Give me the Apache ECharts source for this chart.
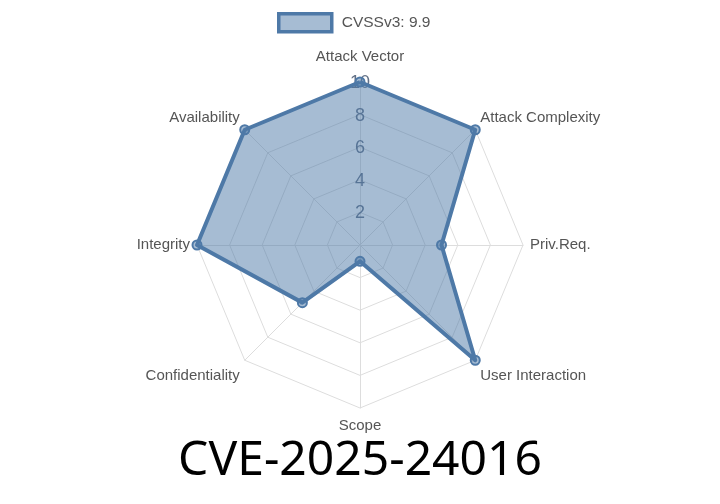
<!DOCTYPE html>
<html><head><meta charset="utf-8">
<script src="https://cdn.jsdelivr.net/npm/echarts@6/dist/echarts.min.js"></script>
<style>html,body{margin:0;padding:0;background:#fff}#c{width:720px;height:504px}</style>
</head><body><div id="c"></div>
<script>
// indicators listed in ECharts' counter-clockwise order starting at top
const indicatorNames = ['Attack Vector','Availability','Integrity','Confidentiality','Scope','User Interaction','Priv.Req.','Attack Complexity'];
const scoreValues = [10, 10, 10, 5, 1, 10, 5, 10];
const tickLabels = [2, 4, 6, 8, 10];
const seriesName = 'CVSSv3: 9.9';
const titleText = 'CVE-2025-24016';
const maxValue = 10;

const namePad = {
  'Attack Vector':'top','Availability':'upper','Attack Complexity':'upper',
  'Confidentiality':'lower','User Interaction':'lower','Scope':'bottom'
};
const nameFont = {color:'#555',fontFamily:'Liberation Sans',fontSize:15};

const chart = echarts.init(document.getElementById('c'), null, {renderer:'canvas'});
chart.setOption({
  animation:false,
  title:{text:titleText,left:'center',top:432,textStyle:{fontFamily:'Noto Sans',fontSize:48,fontWeight:'normal',color:'#000'}},
  legend:{top:7,left:272,data:[seriesName],icon:'rect',itemWidth:53,itemHeight:18,itemGap:16,
    textStyle:{fontFamily:'Liberation Sans',fontSize:15.5,color:'#555',padding:[0,0,0,5]},
    itemStyle:{color:'rgba(78,121,167,0.5)',borderColor:'#4e79a7',borderWidth:3.5}},
  radar:{
    center:[360,245],radius:163,startAngle:90,splitNumber:5,shape:'polygon',
    indicator:indicatorNames.map(n=>({name:n,max:maxValue,min:0})),
    axisName:Object.assign({
      formatter:(name)=>namePad[name]?'{'+namePad[name]+'|'+name+'}':name,
      rich:{
        top:Object.assign({padding:[0,0,11,0]},nameFont),
        upper:Object.assign({padding:[0,0,14,0]},nameFont),
        lower:Object.assign({padding:[22,0,0,0]},nameFont),
        bottom:Object.assign({padding:[3,0,0,0]},nameFont)
      }}, nameFont),
    nameGap:7,
    splitArea:{show:false},
    splitLine:{lineStyle:{color:'#ddd',width:1}},
    axisLine:{lineStyle:{color:'#ddd',width:1}},
    axisTick:{show:false},
    axisLabel:{show:false}
  },
  series:[{
    type:'radar',name:seriesName,
    symbol:'circle',symbolSize:9,z:3,
    lineStyle:{color:'#4e79a7',width:4},
    itemStyle:{color:'rgba(78,121,167,0.5)',borderColor:'#4e79a7',borderWidth:2},
    areaStyle:{color:'rgba(78,121,167,0.5)',opacity:1},
    data:[{value:scoreValues,name:seriesName}]
  }]
});
// tick labels along the top axis, positioned through the radar coordinate system
const coordSys = chart.getModel().getComponent('radar').coordinateSystem;
chart.setOption({graphic: tickLabels.map(v=>{
  const p = coordSys.dataToPoint(v, 0);
  return {type:'text',x:p[0],y:p[1]+1,silent:true,z:2,
    style:{text:String(v),fill:'rgba(80,95,120,0.9)',font:'18px Liberation Sans',align:'center',verticalAlign:'middle'}};
})});
</script></body></html>
